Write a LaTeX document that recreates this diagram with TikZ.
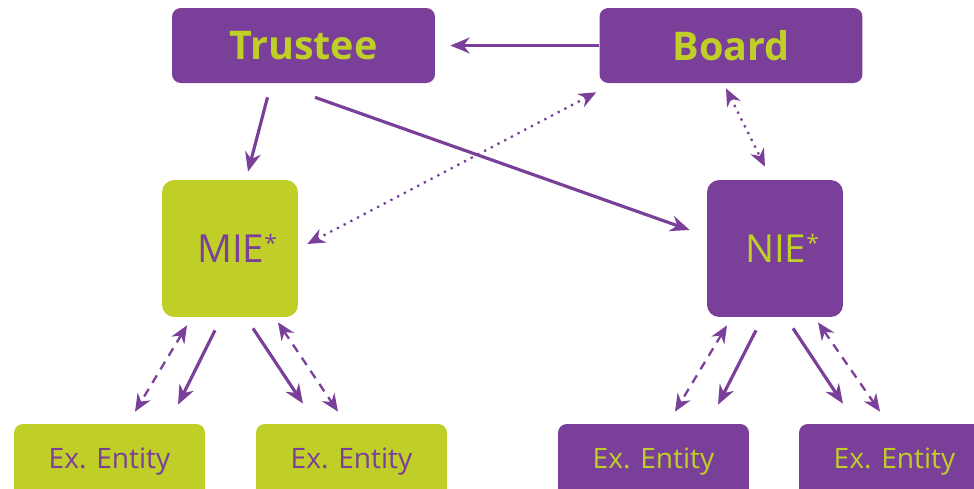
\documentclass[tikz,border=0pt]{standalone}
\usepackage{fontspec}
\setmainfont{Open Sans}
\usetikzlibrary{arrows.meta,calc}
\usetikzlibrary{positioning}

\definecolor{iepurple}{RGB}{122,63,152}
\definecolor{iegreen}{RGB}{192,207,40}

\newcommand{\iestar}{\raisebox{0.3em}{\fontsize{13}{13}\selectfont*}}

\tikzset{
  purplebox/.style={fill=iepurple, text=iegreen, rounded corners=5pt, inner sep=0pt},
  greenbox/.style={fill=iegreen, text=iepurple, rounded corners=5pt, inner sep=0pt},
  topbox/.style={minimum width=5.26cm, minimum height=1.5cm, font=\fontsize{22.5}{27}\selectfont\bfseries},
  midbox/.style={minimum width=2.72cm, minimum height=2.74cm, rounded corners=7pt, font=\fontsize{22}{26}\selectfont},
  exbox/.style={minimum width=3.82cm, minimum height=1.5cm, font=\fontsize{16}{19}\selectfont},
  flow/.style={iepurple, line width=1.8pt, -{Stealth[length=11pt,width=9pt]}},
  talk/.style={iepurple, line width=1.3pt, dash pattern=on 1.3pt off 3pt,
    {Stealth[length=10pt,width=8.5pt]}-{Stealth[length=10pt,width=8.5pt]}},
  report/.style={iepurple, line width=1.3pt, dash pattern=on 5pt off 4pt,
    {Stealth[length=10pt,width=8.5pt]}-{Stealth[length=10pt,width=8.5pt]}}
}

\begin{document}
\begin{tikzpicture}[x=0.02cm, y=-0.02cm]
  \useasboundingbox (0,0) rectangle (974,488);

  \node[purplebox, topbox] (trustee) at (303.5,45.5) {Trustee};
  \node[purplebox, topbox] (board)   at (731,45.5)   {Board};
  \node[greenbox, midbox]  (mie)     at (230,248.5)  {\hspace{8pt}MIE\iestar};
  \node[purplebox, midbox] (nie)     at (775,248.5)  {\hspace{8pt}NIE\iestar};
  \node[greenbox, exbox]   (exa)     at (109.5,461.5) {Ex. Entity};
  \node[greenbox, exbox]   (exb)     at (351.5,461.5) {Ex. Entity};
  \node[purplebox, exbox]  (exc)     at (653.5,461.5) {Ex. Entity};
  \node[purplebox, exbox]  (exd)     at (894.5,461.5) {Ex. Entity};

  % top level
  \draw[flow] (board.west) -- ($(trustee.east)+(15,0)$);
  \draw[flow] ($(trustee.south)+(-36,14)$) -- ($(mie.north)+(18,-8)$);
  \draw[flow] ($(trustee.south)+(11.5,14)$) -- ($(nie.west)+(-17,-18.5)$);
  \draw[talk] ($(board.south west)+(-3,9)$) -- ($(mie.east)+(9,-4.5)$);
  \draw[talk] ($(board.south)+(-5,5)$) -- ($(nie.north)+(-10,-13)$);

  % MIE entities
  \draw[report] ($(mie.south)+(-43,8)$) -- ($(exa.north)+(25.5,-12)$);
  \draw[flow]   ($(mie.south)+(-15,13)$) -- ($(exa.north)+(68.5,-19)$);
  \draw[flow]   ($(mie.south)+(23,11)$) -- ($(exb.north)+(-48.5,-20)$);
  \draw[report] ($(mie.south)+(48,5)$) -- ($(exb.north)+(-13.5,-12)$);

  % NIE entities
  \draw[report] ($(nie.south)+(-48,8)$) -- ($(exc.north)+(21.5,-12)$);
  \draw[flow]   ($(nie.south)+(-19,13)$) -- ($(exc.north)+(64.5,-19)$);
  \draw[flow]   ($(nie.south)+(18,11)$) -- ($(exd.north)+(-51.5,-20)$);
  \draw[report] ($(nie.south)+(43,5)$) -- ($(exd.north)+(-14.5,-12)$);
\end{tikzpicture}
\end{document}
